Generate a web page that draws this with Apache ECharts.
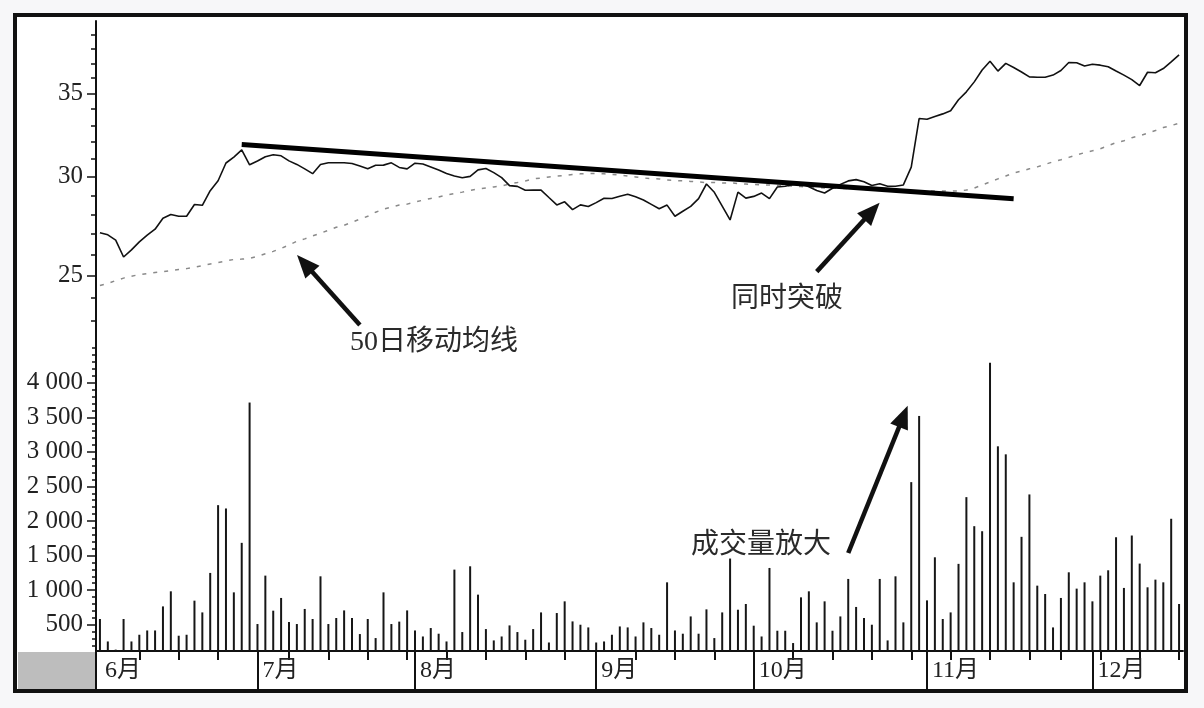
<!DOCTYPE html>
<html>
<head>
<meta charset="utf-8">
<script src="https://cdn.jsdelivr.net/npm/echarts@6.0.0/dist/echarts.min.js"></script>
<style>
html,body{margin:0;padding:0;background:#f7f7f9;}
#c{width:1204px;height:708px;}
</style>
</head>
<body>
<div id="c"></div>
<script>
// ---- data ----
const prices = [27.06,26.96,26.70,25.88,26.22,26.61,26.94,27.24,27.80,27.99,
27.90,27.90,28.51,28.47,29.25,29.79,30.78,31.12,31.53,30.68,
30.89,31.14,31.25,31.19,30.90,30.70,30.45,30.18,30.69,30.79,
30.79,30.79,30.75,30.61,30.46,30.65,30.66,30.79,30.53,30.45,
30.77,30.72,30.55,30.38,30.19,30.05,29.95,30.03,30.39,30.47,
30.24,29.96,29.52,29.48,29.27,29.28,29.28,28.88,28.49,28.65,
28.24,28.49,28.41,28.61,28.84,28.83,28.95,29.06,28.92,28.75,
28.52,28.29,28.48,27.90,28.16,28.41,28.82,29.61,29.16,28.43,
27.71,29.17,28.85,28.94,29.12,28.82,29.45,29.49,29.58,29.64,
29.46,29.26,29.12,29.38,29.59,29.78,29.85,29.73,29.53,29.62,
29.49,29.49,29.56,30.55,33.41,33.37,33.54,33.70,33.89,34.59,
35.10,35.75,36.54,37.14,36.47,36.99,36.71,36.41,36.08,36.06,
36.06,36.20,36.51,37.05,37.03,36.81,36.93,36.87,36.76,36.47,
36.20,35.90,35.51,36.39,36.36,36.64,37.09,37.58];

const ma50 = [24.55,24.64,24.78,24.89,24.98,25.05,25.10,25.15,25.19,25.24,
25.29,25.33,25.40,25.47,25.55,25.62,25.69,25.76,25.78,25.81,
25.91,26.03,26.15,26.29,26.46,26.64,26.76,26.91,27.04,27.19,
27.34,27.44,27.59,27.75,27.90,28.11,28.27,28.37,28.48,28.53,
28.64,28.74,28.83,28.91,29.01,29.09,29.17,29.26,29.34,29.39,
29.45,29.50,29.61,29.69,29.78,29.89,29.94,30.00,30.05,30.08,
30.14,30.17,30.19,30.19,30.17,30.14,30.11,30.05,30.00,29.94,
29.91,29.89,29.83,29.80,29.78,29.75,29.72,29.69,29.69,29.67,
29.67,29.64,29.61,29.58,29.56,29.56,29.53,29.50,29.50,29.47,
29.45,29.42,29.39,29.39,29.37,29.37,29.34,29.31,29.28,29.26,
29.23,29.23,29.23,29.23,29.23,29.23,29.23,29.23,29.23,29.23,
29.28,29.39,29.56,29.72,29.89,30.05,30.22,30.33,30.45,30.56,
30.70,30.85,30.96,31.10,31.25,31.37,31.48,31.60,31.78,31.96,
32.07,32.25,32.37,32.52,32.68,32.86,32.98,33.13];

const volumes = [583,258,140,583,258,355,417,417,765,983,
341,355,848,678,1249,2229,2181,968,1684,3713,
510,1210,703,887,539,510,728,583,1200,510,
597,707,597,365,583,307,968,510,545,707,
417,330,452,370,258,1297,394,1345,935,437,
273,330,490,394,283,437,678,243,669,838,
548,500,461,243,258,355,475,461,330,534,
452,355,1113,417,370,620,370,722,307,678,
1457,717,800,486,330,1321,413,413,235,896,
983,534,838,413,620,1162,757,597,500,1162,
273,1200,534,2562,3519,852,1475,583,678,1380,
2345,1925,1852,4288,3080,2964,1113,1771,2384,1065,
944,461,887,1258,1022,1113,838,1210,1287,1765,
1032,1790,1384,1041,1152,1113,2032,800];

const trendLine = [[18, 31.85], [116, 28.82]];

const monthLabels = ['6月','7月','8月','9月','10月','11月','12月'];
const monthStartIdx = [0, 20, 40, 63, 83, 105, 126];
const weekTickIdx = [5,10,15,24,29,34,39,44,49,54,59,68,73,78,88,93,98,103,108,113,118,122,127,132,137];

const priceMajorTicks = [25, 30, 35];
const priceMinorTicks = [23,24,25,26,27,28,29,30,31,32,33,34,35,36,37,38,39];
const volumeTicks = [500,1000,1500,2000,2500,3000,3500,4000];
const volumeMinorTicks = [];
for (let v = 200; v <= 4500; v += 100) volumeMinorTicks.push(v);

// annotations (data coordinates)
const arrowMA = [[33, 22.83], [26, 25.57]];
const arrowBreak = [[91, 25.19], [98, 28.16]];
const arrowVol = [[95, 1537], [102, 3514]];

// ---- chart ----
const categories = prices.map((_, i) => String(i));
const serif = "'Liberation Serif','Noto Sans CJK SC'";
const PMIN = 22, PMAX = 40, VMIN = 120, VMAX = 4545;

function volFmt(v) {
  v = Math.round(v);
  return v >= 1000 ? Math.floor(v / 1000) + ' ' + String(v % 1000).padStart(3, '0') : String(v);
}
function arrowLine(pts) {
  return {
    silent: true,
    symbol: ['none', 'triangle'],
    symbolSize: [19, 23],
    label: { show: false },
    lineStyle: { color: '#111', width: 4.5, type: 'solid' },
    emphasis: { disabled: true },
    data: [[{ coord: pts[0] }, { coord: pts[1] }]]
  };
}
function note(text, x, y) {
  return { type: 'text', z: 100, x: x, y: y,
    style: { text: text, font: "28px " + serif, fill: '#2a2a2a',
             textAlign: 'left', textVerticalAlign: 'middle', align: 'left', verticalAlign: 'middle' } };
}

const chart = echarts.init(document.getElementById('c'), null, { renderer: 'canvas' });
chart.setOption({
  animation: false,
  backgroundColor: '#f7f7f9',
  graphic: [
    { type: 'rect', z: -100, shape: { x: 15, y: 15, width: 1171, height: 676 },
      style: { fill: '#ffffff', stroke: null } },
    { type: 'rect', z: 100, shape: { x: 18, y: 652, width: 77, height: 37 },
      style: { fill: '#bdbdbd' } },
    { type: 'rect', z: 100, shape: { x: 15, y: 15, width: 1171, height: 676 },
      style: { fill: null, stroke: '#111', lineWidth: 4 } },
    { type: 'line', z: 100, shape: { x1: 96, y1: 650, x2: 96, y2: 690 },
      style: { stroke: '#111', lineWidth: 2 } },
    note('50日移动均线', 350, 343),
    note('同时突破', 731, 300),
    note('成交量放大', 691, 546)
  ],
  grid: [
    { left: 96, right: 21, top: 21, height: 324 },
    { left: 96, right: 21, top: 345, height: 306 }
  ],
  xAxis: [
    { type: 'category', gridIndex: 0, data: categories, boundaryGap: true, show: false },
    { type: 'category', gridIndex: 1, data: categories, boundaryGap: true,
      axisLine: { show: true, lineStyle: { color: '#111', width: 2 } },
      axisTick: { show: true, alignWithLabel: true, length: 39,
        interval: (i) => i !== 0 && monthStartIdx.indexOf(i) >= 0,
        lineStyle: { color: '#111', width: 2 } },
      axisLabel: { show: true, align: 'left', padding: [0, 0, 0, 5], margin: 8,
        interval: (i) => monthStartIdx.indexOf(i) >= 0,
        formatter: (v, i) => monthLabels[monthStartIdx.indexOf(Number(v))] || '',
        fontFamily: serif, fontSize: 24, color: '#222' },
      splitLine: { show: false } },
    { type: 'category', gridIndex: 1, data: categories, boundaryGap: true, position: 'bottom',
      axisLine: { show: false },
      axisTick: { show: true, alignWithLabel: true, length: 9,
        interval: (i) => weekTickIdx.indexOf(i) >= 0,
        lineStyle: { color: '#111', width: 2 } },
      axisLabel: { show: false }, splitLine: { show: false } }
  ],
  yAxis: [
    { type: 'log', gridIndex: 0, min: PMIN, max: PMAX, logBase: 10, show: false },
    { type: 'value', gridIndex: 0, min: Math.log(PMIN), max: Math.log(PMAX), position: 'left',
      axisLine: { show: true, lineStyle: { color: '#111', width: 2 } },
      axisTick: { show: true, length: 9, customValues: priceMajorTicks.map(Math.log),
        lineStyle: { color: '#111', width: 1.5 } },
      axisLabel: { show: true, margin: 13, customValues: priceMajorTicks.map(Math.log),
        formatter: (v) => String(Math.round(Math.exp(v))),
        fontFamily: serif, fontSize: 25, color: '#222' },
      splitLine: { show: false } },
    { type: 'value', gridIndex: 0, min: Math.log(PMIN), max: Math.log(PMAX), position: 'left',
      axisLine: { show: false },
      axisTick: { show: true, length: 5, customValues: priceMinorTicks.map(Math.log),
        lineStyle: { color: '#111', width: 1.5 } },
      axisLabel: { show: false }, splitLine: { show: false } },
    { type: 'value', gridIndex: 1, min: VMIN, max: VMAX, position: 'left',
      axisLine: { show: true, lineStyle: { color: '#111', width: 2 } },
      axisTick: { show: true, length: 9, customValues: volumeTicks,
        lineStyle: { color: '#111', width: 1.5 } },
      axisLabel: { show: true, margin: 13, customValues: volumeTicks, formatter: volFmt,
        fontFamily: serif, fontSize: 25, color: '#222' },
      splitLine: { show: false } },
    { type: 'value', gridIndex: 1, min: VMIN, max: VMAX, position: 'left',
      axisLine: { show: false },
      axisTick: { show: true, length: 4, customValues: volumeMinorTicks,
        lineStyle: { color: '#111', width: 1.5 } },
      axisLabel: { show: false }, splitLine: { show: false } }
  ],
  series: [
    { name: '50日移动均线', type: 'line', xAxisIndex: 0, yAxisIndex: 0, data: ma50,
      symbol: 'none', z: 2, silent: true,
      lineStyle: { color: '#8a8a8a', width: 1.5, type: [4, 7] } },
    { name: '价格', type: 'line', xAxisIndex: 0, yAxisIndex: 0, data: prices,
      symbol: 'none', z: 3, silent: true,
      lineStyle: { color: '#111', width: 1.6 },
      markLine: arrowLine(arrowMA) },
    { name: '趋势线', type: 'line', xAxisIndex: 0, yAxisIndex: 0, data: trendLine,
      symbol: 'none', z: 4, silent: true,
      lineStyle: { color: '#000', width: 5 },
      markLine: arrowLine(arrowBreak) },
    { name: '成交量', type: 'bar', xAxisIndex: 1, yAxisIndex: 3, data: volumes,
      barWidth: 2, silent: true, itemStyle: { color: '#161616' },
      markLine: arrowLine(arrowVol) }
  ]
});
</script>
</body>
</html>
